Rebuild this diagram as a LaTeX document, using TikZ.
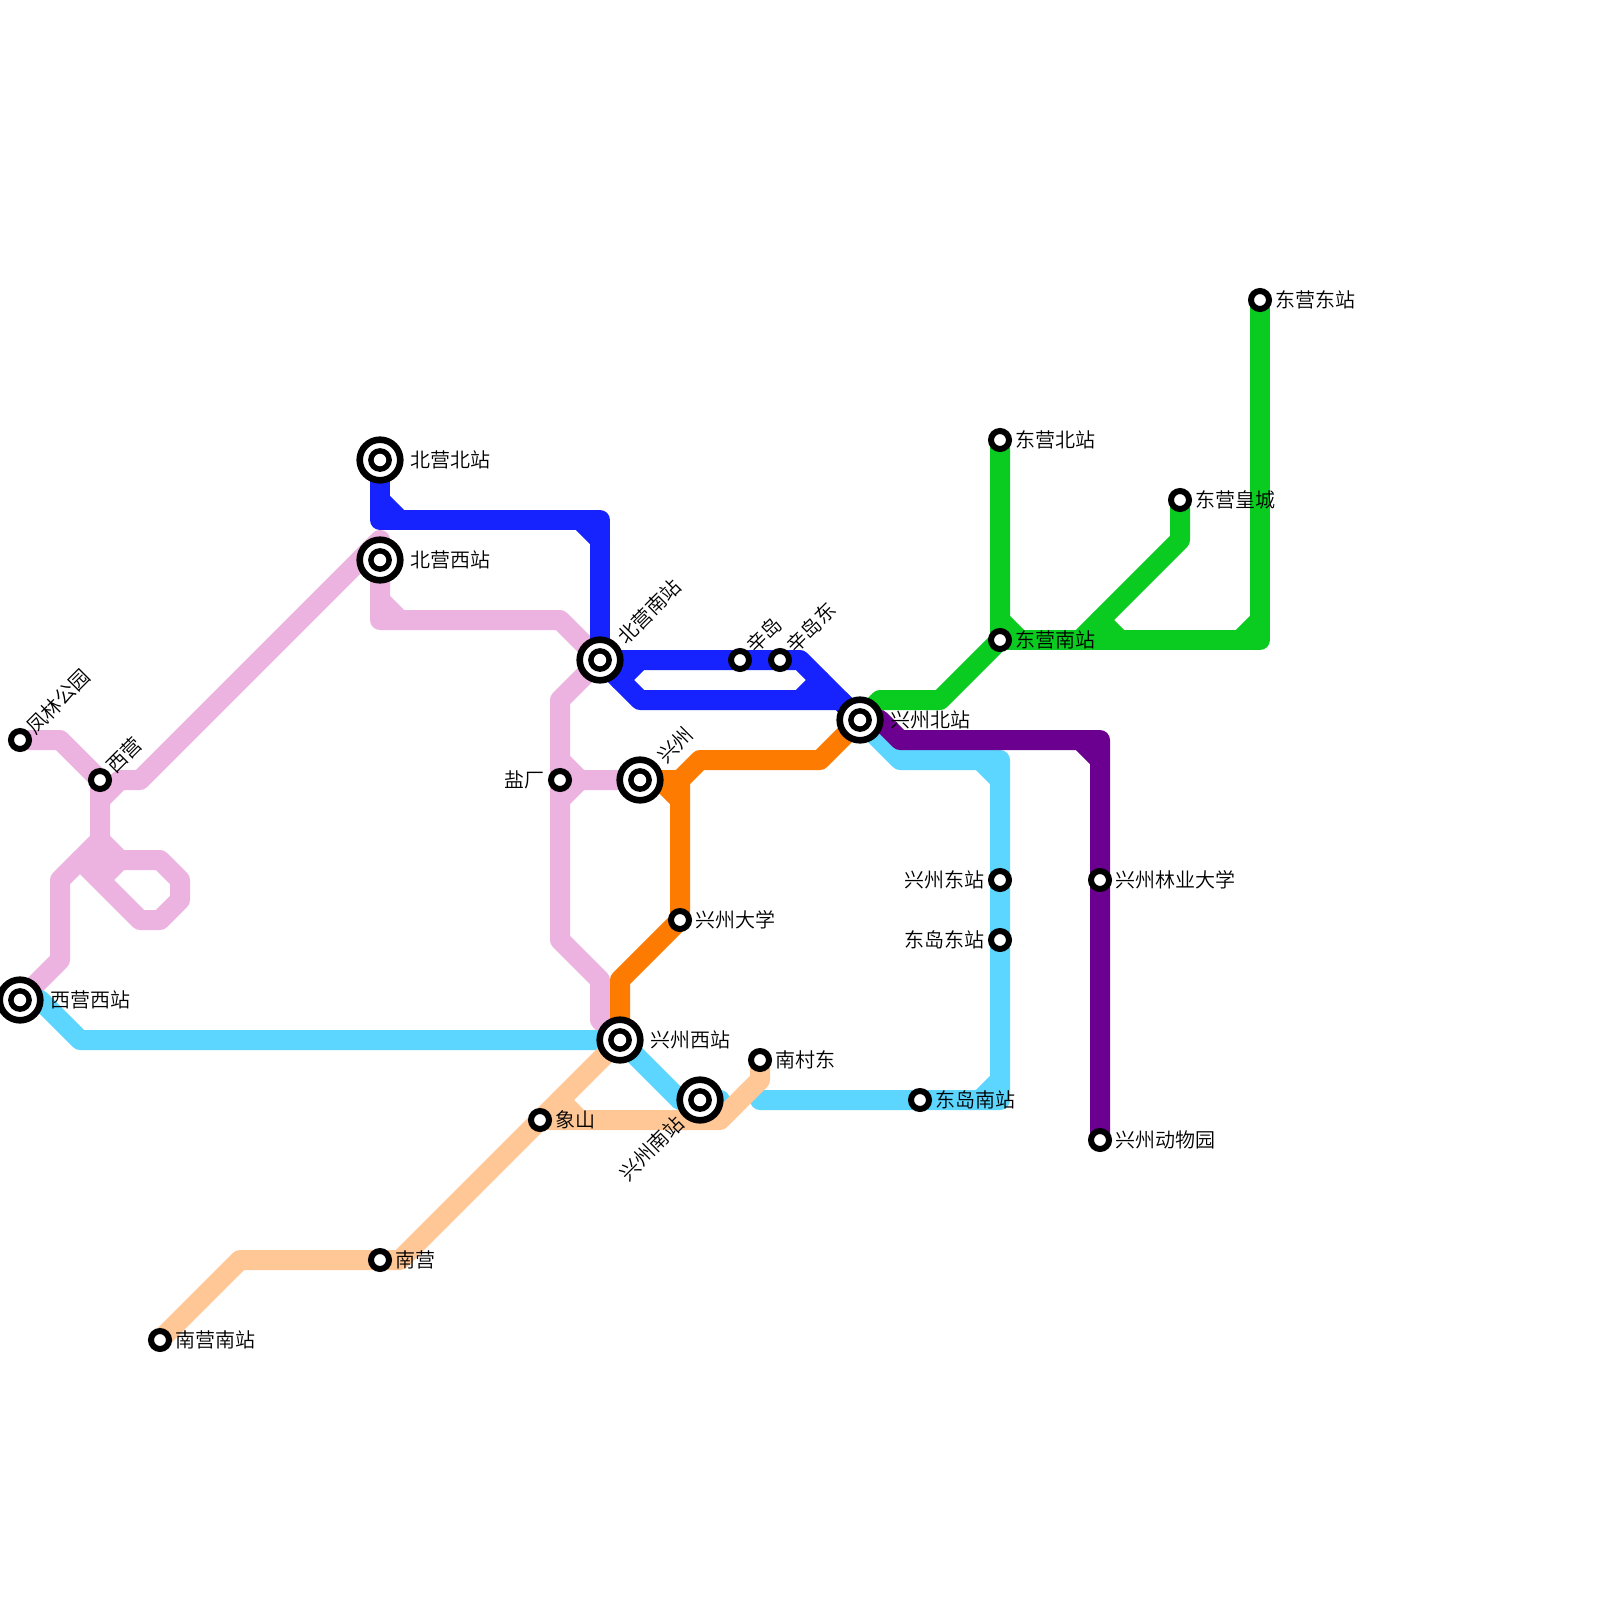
\documentclass[tikz,border=0pt]{standalone}
\usepackage{fontspec}
\setmainfont{Noto Sans CJK SC DemiLight}
\usepackage{xcolor}
\usetikzlibrary{backgrounds}
\definecolor{linePink}{HTML}{ECB2E0}
\definecolor{lineCyan}{HTML}{5CD6FF}
\definecolor{linePeach}{HTML}{FFC795}
\definecolor{lineOrange}{HTML}{FC7B00}
\definecolor{lineBlue}{HTML}{1723FF}
\definecolor{lineGreen}{HTML}{0ACB20}
\definecolor{linePurple}{HTML}{6B0090}
\tikzset{
  mLine/.style={line width=20pt,line cap=round,line join=round},
  mPink/.style={mLine,draw=linePink},
  mCyan/.style={mLine,draw=lineCyan},
  mPeach/.style={mLine,draw=linePeach},
  mOrange/.style={mLine,draw=lineOrange},
  mBlue/.style={mLine,draw=lineBlue},
  mGreen/.style={mLine,draw=lineGreen},
  mPurple/.style={mLine,draw=linePurple},
  mStop/.style={circle,draw=black,fill=white,line width=6pt,minimum size=18pt,inner sep=0pt},
  mHub/.style={circle,draw=black,fill=white,line width=6.6pt,minimum size=40.6pt,inner sep=0pt,
        path picture={\fill[black] (path picture bounding box.center) circle (11.9pt);
        \fill[white] (path picture bounding box.center) circle (6.2pt);}},
  mText/.style={font=\fontsize{20}{24}\selectfont,inner sep=0pt,text=black},
  mRight/.style={mText,anchor=west},
  mLeft/.style={mText,anchor=east},
  mUp/.style={mText,anchor=west,rotate=45},
  mDown/.style={mText,anchor=east,rotate=45},
}
\begin{document}
\begin{tikzpicture}[x=1pt,y=-1pt]
\useasboundingbox (0,0) rectangle (1600,1600);
\node[mHub]  (xyxz) at (20,1000)  {};
\node[mStop] (flgy) at (20,740)   {};
\node[mStop] (xy)   at (100,780)  {};
\node[mHub]  (bbz)  at (380,460)  {};
\node[mHub]  (bxz)  at (380,560)  {};
\node[mHub]  (bnz)  at (600,660)  {};
\node[mStop] (xd)   at (740,660)  {};
\node[mStop] (xdd)  at (780,660)  {};
\node[mHub]  (xbz)  at (860,720)  {};
\node[mHub]  (xz)   at (640,780)  {};
\node[mStop] (yc)   at (560,780)  {};
\node[mStop] (xdx)  at (680,920)  {};
\node[mHub]  (xxz)  at (620,1040) {};
\node[mHub]  (xnz)  at (700,1100) {};
\node[mStop] (sx)   at (540,1120) {};
\node[mStop] (ncd)  at (760,1060) {};
\node[mStop] (ddn)  at (920,1100) {};
\node[mStop] (ny)   at (380,1260) {};
\node[mStop] (nyn)  at (160,1340) {};
\node[mStop] (dnz)  at (1000,640) {};
\node[mStop] (dbz)  at (1000,440) {};
\node[mStop] (dhc)  at (1180,500) {};
\node[mStop] (ddz)  at (1260,300) {};
\node[mStop] (xdz)  at (1000,880) {};
\node[mStop] (ddd)  at (1000,940) {};
\node[mStop] (lyd)  at (1100,880) {};
\node[mStop] (dwy)  at (1100,1140){};

\node[mRight] (lxyxz) at (50,1000)   {西营西站};
\node[mUp]    (lflgy) at (30,730)    {凤林公园};
\node[mUp]    (lxy)   at (110,769)   {西营};
\node[mRight] (lbbz)  at (410,460)   {北营北站};
\node[mRight] (lbxz)  at (410,560)   {北营西站};
\node[mUp]    (lbnz)  at (621,640)   {北营南站};
\node[mUp]    (lxd)   at (750,649)   {辛岛};
\node[mUp]    (lxdd)  at (790,649)   {辛岛东};
\node[mRight] (lxbz)  at (890,720)   {兴州北站};
\node[mUp]    (lxz)   at (661,759)   {兴州};
\node[mLeft]  (lyc)   at (545,780)   {盐厂};
\node[mRight] (lxdx)  at (695,920)   {兴州大学};
\node[mRight] (lxxz)  at (650,1040)  {兴州西站};
\node[mDown]  (lxnz)  at (680,1120)  {兴州南站};
\node[mRight] (lsx)   at (555,1120)  {象山};
\node[mRight] (lncd)  at (775,1060)  {南村东};
\node[mRight] (lddn)  at (935,1100)  {东岛南站};
\node[mRight] (lny)   at (395,1260)  {南营};
\node[mRight] (lnyn)  at (175,1340)  {南营南站};
\node[mRight] (ldnz)  at (1015,640)  {东营南站};
\node[mRight] (ldbz)  at (1015,440)  {东营北站};
\node[mRight] (ldhc)  at (1195,500)  {东营皇城};
\node[mRight] (lddz)  at (1275,300)  {东营东站};
\node[mLeft]  (lxdz)  at (985,880)   {兴州东站};
\node[mLeft]  (lddd)  at (985,940)   {东岛东站};
\node[mRight] (llyd)  at (1115,880)  {兴州林业大学};
\node[mRight] (ldwy)  at (1115,1140) {兴州动物园};

\begin{scope}[on background layer]
% pink
\draw[mPink] (flgy.center) -- (60,740) -- (xy.center) -- (100,880) -- (120,860) -- (160,860)
  -- (180,880) -- (180,900) -- (160,920) -- (140,920) -- (80,860);
\draw[mPink] (100,840) -- (120,860);
\draw[mPink] (100,840) -- (60,880) -- (60,960) -- (xyxz.center);
\draw[mPink] (xy.center) -- (100,800) -- (120,780) -- (140,780) -- (380,540) -- (bxz.center);
\draw[mPink] (bxz.center) -- (380,620) -- (560,620) -- (bnz.center);
\draw[mPink] (380,600) -- (400,620);
\draw[mPink] (bnz.center) -- (560,700) -- (yc.center) -- (560,940) -- (600,980) -- (600,1020) -- (xxz.center);
\draw[mPink] (560,760) -- (580,780) -- (xz.center);
\draw[mPink] (560,800) -- (580,780);
% cyan
\draw[mCyan] (xyxz.center) -- (40,1000) -- (80,1040) -- (xxz.center) -- (680,1100) -- (xnz.center) -- (720,1100);
\draw[mCyan] (760,1100) -- (ddn.center) -- (1000,1100) -- (ddd.center) -- (xdz.center) -- (1000,760) -- (900,760) -- (xbz.center);
\draw[mCyan] (980,1100) -- (1000,1080);
\draw[mCyan] (980,760) -- (1000,780);
% peach
\draw[mPeach] (nyn.center) -- (240,1260) -- (ny.center) -- (400,1260) -- (sx.center) -- (xxz.center);
\draw[mPeach] (sx.center) -- (720,1120) -- (760,1080) -- (ncd.center);
\draw[mPeach] (560,1100) -- (580,1120);
% orange
\draw[mOrange] (xxz.center) -- (620,980) -- (xdx.center) -- (680,780) -- (700,760) -- (820,760) -- (xbz.center);
\draw[mOrange] (xz.center) -- (680,780);
\draw[mOrange] (660,780) -- (680,800);
% blue
\draw[mBlue] (bbz.center) -- (380,520) -- (600,520) -- (bnz.center);
\draw[mBlue] (380,500) -- (400,520);
\draw[mBlue] (580,520) -- (600,540);
\draw[mBlue] (bnz.center) -- (xd.center) -- (xdd.center) -- (800,660) -- (xbz.center);
\draw[mBlue] (bnz.center) -- (640,700) -- (840,700) -- (xbz.center);
\draw[mBlue] (640,660) -- (620,680);
\draw[mBlue] (800,700) -- (820,680);
% green
\draw[mGreen] (xbz.center) -- (880,700) -- (940,700) -- (dnz.center) -- (dbz.center);
\draw[mGreen] (1000,620) -- (1020,640);
\draw[mGreen] (dnz.center) -- (1260,640) -- (ddz.center);
\draw[mGreen] (1240,640) -- (1260,620);
\draw[mGreen] (1080,640) -- (1180,540) -- (dhc.center);
\draw[mGreen] (1100,620) -- (1120,640);
% purple
\draw[mPurple] (xbz.center) -- (880,720) -- (900,740) -- (1100,740) -- (lyd.center) -- (dwy.center);
\draw[mPurple] (1080,740) -- (1100,760);
\end{scope}
\end{tikzpicture}
\end{document}
